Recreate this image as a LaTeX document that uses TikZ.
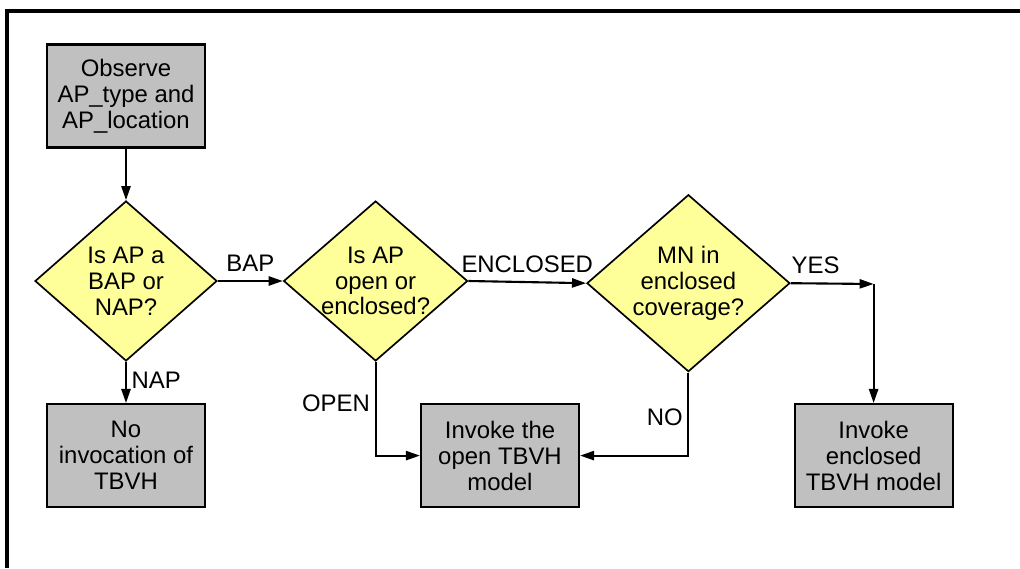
\documentclass[tikz,border=0pt]{standalone}
\usepackage{fontspec}
\setmainfont{Liberation Sans}
\usetikzlibrary{shapes.geometric,arrows.meta,positioning}
\definecolor{decyellow}{HTML}{FFFF99}
\definecolor{actgray}{HTML}{C0C0C0}

\begin{document}
\begin{tikzpicture}[
  every node/.style={font=\fontsize{17}{18.4}\selectfont},
  actbox/.style={draw,line width=1.5pt,fill=actgray,align=center,minimum width=3.95cm,minimum height=2.575cm,inner sep=2pt},
  decbox/.style={draw,line width=1.2pt,fill=decyellow,diamond,shape aspect=1.15,align=center,inner sep=-6pt},
  flow/.style={line width=1.5pt,-{Triangle[length=10pt,width=6.5pt]}},
  lab/.style={inner sep=6pt}
]
\useasboundingbox (0,0) rectangle (25.5,14.2);
% frame
\draw[line width=2.2pt] (0.175,0) -- (0.175,13.925) -- (25.5,13.925);

% boxes
\node[actbox] (obs) at (3.15,11.8) {Observe\\AP\_type and\\AP\_location};
\node[actbox] (noinv) at (3.15,2.81) {No\\invocation of\\TBVH};
\node[actbox] (openm) at (12.5,2.81) {Invoke the\\open TBVH\\model};
\node[actbox] (encm) at (21.84,2.81) {Invoke\\enclosed\\TBVH model};

% decisions
\node[decbox,minimum width=4.55cm,minimum height=4cm] (isbap) at (3.15,7.175) {Is AP a\\BAP or\\NAP?};
\node[decbox,minimum width=4.6cm,minimum height=4cm] (isopen) at (9.39,7.175) {Is AP\\open or\\enclosed?};
\node[decbox,minimum width=5.075cm,minimum height=4.425cm] (incov) at (17.21,7.12) {MN in\\enclosed\\coverage?};
\coordinate (yesc) at (21.84,7.1);

% connectors
\draw[flow] (obs) -- (isbap);
\draw[flow] (isbap.east) -- node[above,lab] {BAP} (isopen.west);
\draw[flow] (isopen.east) -- node[above,lab] {ENCLOSED} (incov.west);
\draw[flow] (incov.east) -- node[above,lab,pos=0.3] {YES} (yesc);
\draw[flow] (yesc) -- (encm.north);
\draw[flow] (isbap.south) -- node[right,pos=0.45] {NAP} (noinv.north);
\draw[flow] (isopen.south) |- node[left,pos=0.22] {OPEN} (openm.west);
\draw[flow] (incov.south) |- node[left,pos=0.27] {NO} (openm.east);
\end{tikzpicture}
\end{document}
